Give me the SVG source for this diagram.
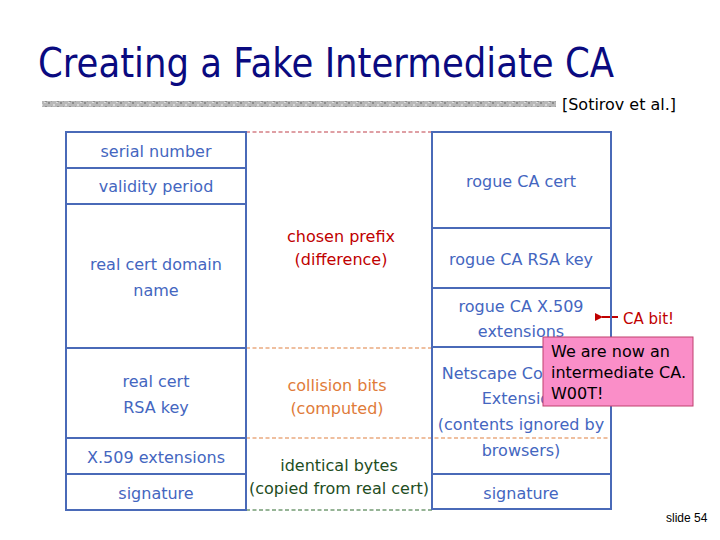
<svg xmlns="http://www.w3.org/2000/svg" width="720" height="540" viewBox="0 0 720 540">
<defs>
<style>
.t{font-family:"DejaVu Sans","Verdana",sans-serif;font-size:16px;text-anchor:middle}
.b{fill:#4466c0}
.box{fill:none;stroke:#4a6ab8;stroke-width:2}
.dash{fill:none;stroke-width:1.2;stroke-dasharray:4 2.5}
</style>
<pattern id="tex" width="12" height="6" patternUnits="userSpaceOnUse">
<rect width="12" height="6" fill="#b8b8b8"/>
<rect x="0" y="0" width="2" height="2" fill="#8c8c8c"/>
<rect x="5" y="2" width="2" height="2" fill="#d8d8d8"/>
<rect x="9" y="4" width="2" height="2" fill="#909090"/>
<rect x="3" y="4" width="1" height="2" fill="#a0a0a0"/>
<rect x="8" y="0" width="2" height="1" fill="#dcdcdc"/>
</pattern>
<marker id="ah" markerWidth="8" markerHeight="8" refX="1" refY="4" orient="auto" markerUnits="userSpaceOnUse">
<path d="M8,0 L0,4 L8,8 Z" fill="#c00000"/>
</marker>
</defs>
<rect width="720" height="540" fill="#ffffff"/>
<text x="38" y="77" font-family="DejaVu Sans, sans-serif" font-size="41" fill="#0a0a80" textLength="576" lengthAdjust="spacingAndGlyphs">Creating a Fake Intermediate CA</text>
<rect x="42" y="101" width="514" height="6" fill="url(#tex)"/>
<text x="562" y="110" font-family="DejaVu Sans, sans-serif" font-size="16" fill="#000" textLength="114" lengthAdjust="spacingAndGlyphs">[Sotirov et al.]</text>

<g id="connectors">
<line class="dash" x1="246" y1="132" x2="432" y2="132" stroke="#c0404a"/>
<line class="dash" x1="246" y1="348" x2="432" y2="348" stroke="#e08040"/>
<line class="dash" x1="246" y1="438" x2="611" y2="438" stroke="#e08040"/>
<line class="dash" x1="246" y1="510" x2="432" y2="510" stroke="#2e6a2e"/>
<line x1="618" y1="317" x2="602" y2="317" stroke="#c00000" stroke-width="2" marker-end="url(#ah)"/>
</g>

<g id="real-cert">
<rect class="box" x="66" y="132" width="180" height="378"/>
<line class="box" x1="66" y1="168" x2="246" y2="168"/>
<line class="box" x1="66" y1="204" x2="246" y2="204"/>
<line class="box" x1="66" y1="348" x2="246" y2="348"/>
<line class="box" x1="66" y1="438" x2="246" y2="438"/>
<line class="box" x1="66" y1="474" x2="246" y2="474"/>
<text class="t b" x="156" y="157">serial number</text>
<text class="t b" x="156" y="192">validity period</text>
<text class="t b" x="156" y="270">real cert domain</text>
<text class="t b" x="156" y="296">name</text>
<text class="t b" x="156" y="387">real cert</text>
<text class="t b" x="156" y="413">RSA key</text>
<text class="t b" x="156" y="463">X.509 extensions</text>
<text class="t b" x="156" y="499">signature</text>
</g>

<g id="middle">
<text class="t" x="341" y="242" fill="#c00000">chosen prefix</text>
<text class="t" x="341" y="265" fill="#c00000">(difference)</text>
<text class="t" x="337" y="391" fill="#e07b39">collision bits</text>
<text class="t" x="337" y="414" fill="#e07b39">(computed)</text>
<text class="t" x="339" y="471" fill="#1e4d1e">identical bytes</text>
<text class="t" x="339" y="494" fill="#1e4d1e">(copied from real cert)</text>
</g>

<g id="rogue-cert">
<rect class="box" x="432" y="132" width="179" height="377"/>
<line class="box" x1="432" y1="228" x2="611" y2="228"/>
<line class="box" x1="432" y1="288" x2="611" y2="288"/>
<line class="box" x1="432" y1="347" x2="611" y2="347"/>
<line class="box" x1="432" y1="474" x2="611" y2="474"/>
<text class="t b" x="521" y="187">rogue CA cert</text>
<text class="t b" x="521" y="265">rogue CA RSA key</text>
<text class="t b" x="521" y="312">rogue CA X.509</text>
<text class="t b" x="521" y="337">extensions</text>
<text class="t b" x="521" y="379">Netscape Comment</text>
<text class="t b" x="521" y="404">Extension</text>
<text class="t b" x="521" y="430">(contents ignored by</text>
<text class="t b" x="521" y="456">browsers)</text>
<text class="t b" x="521" y="499">signature</text>
</g>

<g id="ca-bit">
<text x="623" y="324" font-family="DejaVu Sans, sans-serif" font-size="15" fill="#c00000">CA bit!</text>
</g>

<g id="note">
<rect x="543" y="337" width="150" height="69" fill="#fa8ec8" stroke="#c0406e" stroke-width="1"/>
<text x="551" y="357" font-family="DejaVu Sans, sans-serif" font-size="16" fill="#000">We are now an</text>
<text x="551" y="378" font-family="DejaVu Sans, sans-serif" font-size="16" fill="#000">intermediate CA.</text>
<text x="551" y="399" font-family="DejaVu Sans, sans-serif" font-size="16" fill="#000">W00T!</text>
</g>

<text x="666" y="522" font-family="Liberation Sans, Arial, sans-serif" font-size="12" fill="#000">slide 54</text>
</svg>
